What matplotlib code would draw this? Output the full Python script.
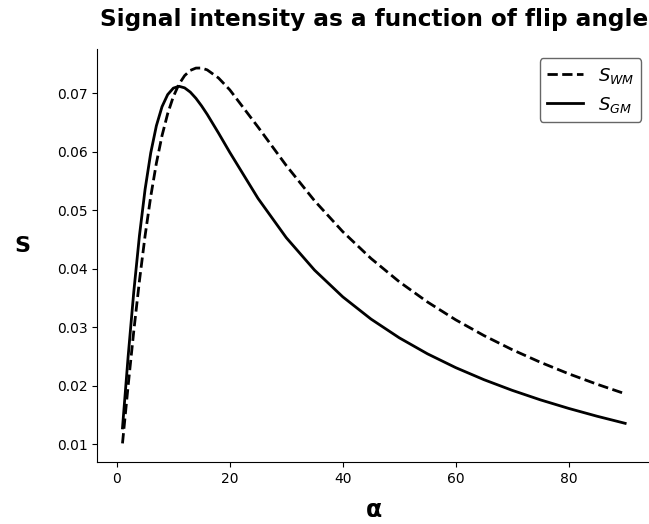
import matplotlib
matplotlib.use("Agg")
import matplotlib.pyplot as plt

# flip angle (degrees) and signal
alpha = [1, 2, 3, 4, 5, 6, 7, 8, 9, 10, 11, 12, 13, 14, 15, 16, 18, 20,
         25, 30, 35, 40, 45, 50, 55, 60, 65, 70, 75, 80, 85, 90]

s_wm = [0.01015, 0.02001, 0.02935, 0.03793, 0.04563, 0.05234, 0.05804, 0.06275,
        0.06651, 0.06941, 0.07154, 0.07301, 0.07390, 0.07430, 0.07431, 0.07399,
        0.07261, 0.07058, 0.06422, 0.05764, 0.05163, 0.04634, 0.04176, 0.03778,
        0.03432, 0.03127, 0.02858, 0.02617, 0.02401, 0.02205, 0.02027, 0.01863]

s_gm = [0.01280, 0.02499, 0.03606, 0.04564, 0.05356, 0.05979, 0.06444, 0.06770,
        0.06977, 0.07087, 0.07119, 0.07092, 0.07020, 0.06914, 0.06784, 0.06639,
        0.06320, 0.05989, 0.05202, 0.04531, 0.03977, 0.03520, 0.03140, 0.02820,
        0.02546, 0.02310, 0.02104, 0.01922, 0.01759, 0.01613, 0.01480, 0.01358]

fig = plt.figure(figsize=(6.49, 5.24), dpi=100)
ax = fig.add_axes([0.150, 0.118, 0.852, 0.788])

ax.plot(alpha, s_wm, '--k', lw=2, label=r'$S_{WM}$')
ax.plot(alpha, s_gm, '-k', lw=2, label=r'$S_{GM}$')

ax.set_title("Signal intensity as a function of flip angle", fontsize=16.7,
             fontweight='bold', pad=17)
ax.set_xlabel(r"$\mathbf{\alpha}$", fontsize=17, fontweight='bold', labelpad=9)
ax.set_ylabel("S", fontsize=16, fontweight='bold', rotation=0)
ax.yaxis.set_label_coords(-0.135, 0.5)

ax.spines['top'].set_visible(False)
ax.spines['right'].set_visible(False)

leg = ax.legend(loc='upper right', fontsize=13)
leg.get_frame().set_edgecolor('0.25')

plt.savefig("out.png", dpi=100)
plt.close()
